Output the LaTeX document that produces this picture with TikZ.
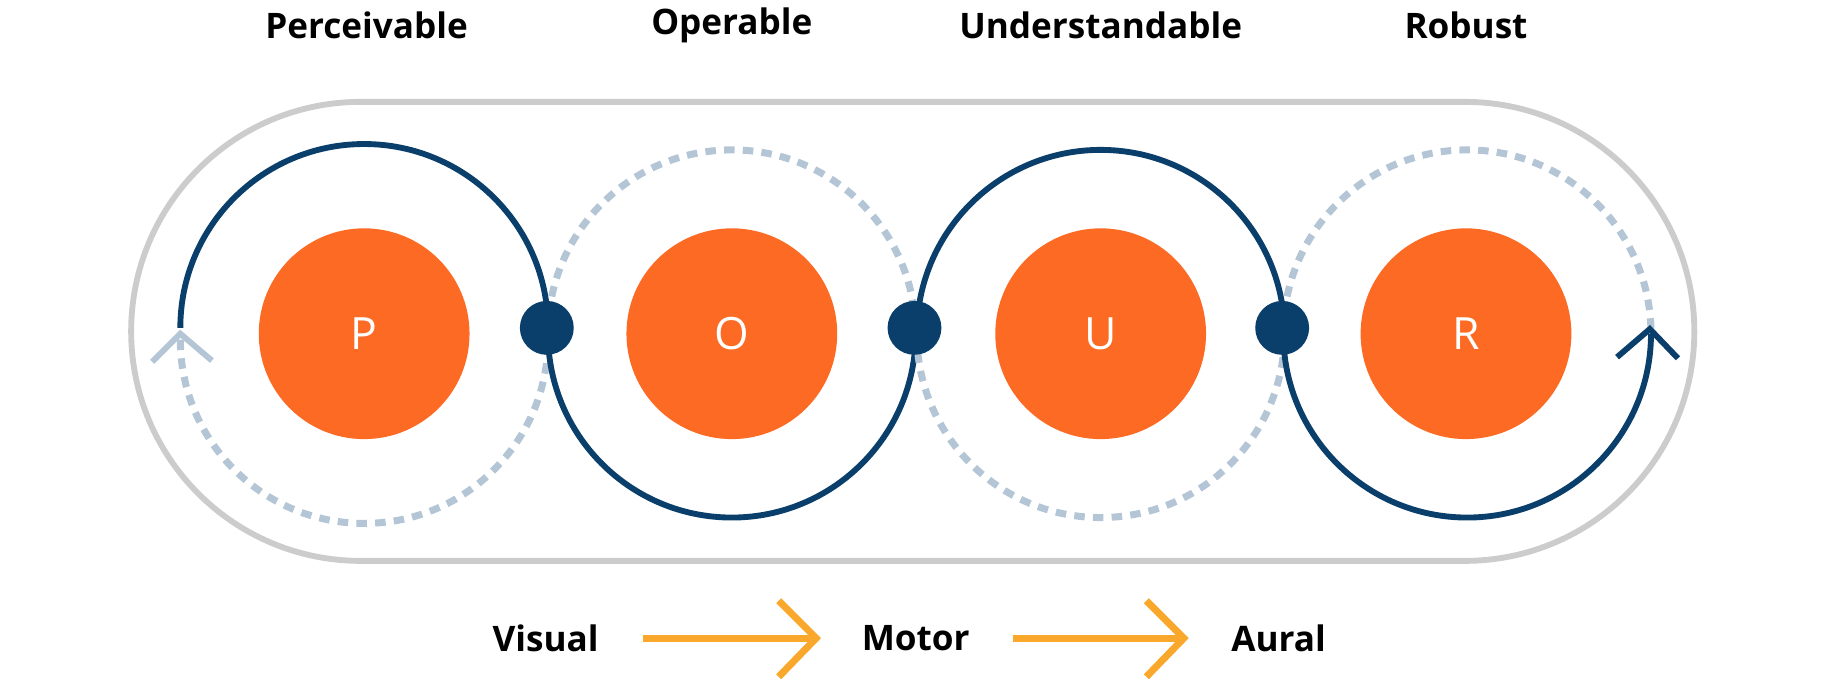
\documentclass[tikz,border=0pt]{standalone}
\usepackage{fontspec}
\setmainfont{Open Sans}
\definecolor{navy}{HTML}{0B3F6B}
\definecolor{pale}{HTML}{B4C6D6}
\definecolor{orng}{HTML}{FC6A24}
\definecolor{gold}{HTML}{F9A82B}
\definecolor{frame}{HTML}{CCCCCC}
\begin{document}
\begin{tikzpicture}[x=1pt,y=-1pt,
  solidarc/.style={navy,line width=5pt},
  dasharc/.style={pale,line width=6pt,dash pattern=on 9pt off 7pt},
  disc/.style={circle,fill=orng,minimum size=180pt,inner sep=0pt,text=white,font=\fontsize{38}{44}\selectfont},
  dot/.style={circle,fill=navy,minimum size=46pt,inner sep=0pt},
  head/.style={font=\fontsize{30}{36}\selectfont\bfseries},
  foot/.style={font=\fontsize{30}{36}\selectfont\bfseries},
  garrow/.style={gold,line width=6pt}]
\useasboundingbox (0,0) rectangle (1568,584);
\draw[frame,line width=5pt,rounded corners=196pt] (112,87) rectangle (1447,479);
\node[head] (hp) at (313,22) {Perceivable};
\node[head] (ho) at (625,22) {Operable};
\node[head] (hu) at (940,22) {Understandable};
\node[head] (hr) at (1252,22) {Robust};
% arcs (y axis points down, so angles are mirrored)
\draw[solidarc] (154,280) arc[start angle=180,end angle=360,radius=157];
\draw[dasharc] (154,290) arc[start angle=180,end angle=0,radius=157];
\draw[solidarc] (468,285) arc[start angle=180,end angle=0,radius=157];
\draw[dasharc] (468,285) arc[start angle=180,end angle=360,radius=157];
\draw[solidarc] (783,285) arc[start angle=180,end angle=360,radius=157];
\draw[dasharc] (783,285) arc[start angle=180,end angle=0,radius=157];
\draw[solidarc] (1096,285) arc[start angle=180,end angle=0,radius=157];
\draw[dasharc] (1096,285) arc[start angle=180,end angle=360,radius=157];
% chevrons
\coordinate (cl) at (154,285);
\coordinate (cr) at (1409,281);
\draw[pale,line width=5pt] (130,309) -- (cl) -- (181,308);
\draw[navy,line width=5pt] (1381,305) -- (cr) -- (1433,306);
\node[disc] (P) at (311,285) {P};
\node[disc] (O) at (625,285) {O};
\node[disc] (U) at (940,285) {U};
\node[disc] (R) at (1252,285) {R};
\node[dot] (d1) at (467,280) {};
\node[dot] (d2) at (781,280) {};
\node[dot] (d3) at (1095,280) {};
\node[foot] (vis) at (466,545) {Visual};
\node[foot] (mot) at (782,545) {Motor};
\node[foot] (aur) at (1092,545) {Aural};
\coordinate (t1) at (697,545);
\coordinate (t2) at (1011,545);
\draw[garrow] (549,545) -- (t1);
\draw[garrow] (665,513) -- (t1) -- (665,578);
\draw[garrow] (865,545) -- (t2);
\draw[garrow] (979,513) -- (t2) -- (979,578);
\end{tikzpicture}
\end{document}
